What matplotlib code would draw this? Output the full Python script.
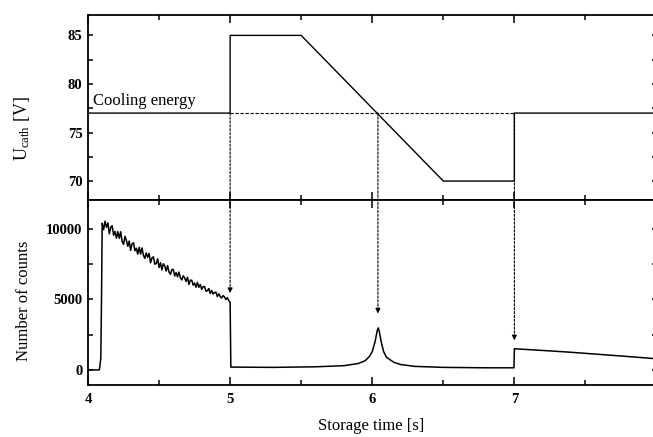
import numpy as np
import matplotlib
matplotlib.use('Agg')
import matplotlib.pyplot as plt
from matplotlib.patches import ConnectionPatch
from matplotlib.ticker import MultipleLocator

plt.rcParams['font.family'] = ['Liberation Serif', 'DejaVu Serif']
plt.rcParams['mathtext.fontset'] = 'custom'
plt.rcParams['mathtext.rm'] = 'Liberation Serif'
plt.rcParams['mathtext.it'] = 'Liberation Serif:italic'

# cathode voltage programme
u_time = [4.0, 5.0, 5.0, 5.5, 6.5, 7.0, 7.0, 8.0]
u_volt = [77, 77, 85, 85, 70, 70, 77, 77]
cooling_energy = 77

# counts: injection edge
t_rise = [4.0, 4.08, 4.09, 4.095]
c_rise = [0, 0, 800, 5000]

# counts: noisy decay, sampled every 10 ms from 4.10 s to 4.99 s
t_decay = np.round(np.arange(4.10, 4.995, 0.01), 3)
c_decay = [10400, 9950, 10550, 10110, 10430, 9650, 10110, 10230, 9550, 9820,
           9340, 9810, 9330, 9800, 9120, 8900, 9470, 9190, 8770, 9140,
           8470, 8950, 9020, 8450, 8630, 8210, 8690, 8220, 8650, 8130,
           7910, 8300, 7980, 8260, 7600, 7930, 8020, 7500, 7540, 7880,
           7260, 7600, 7090, 7530, 7370, 7010, 7400, 6940, 6780, 7120,
           7120, 6660, 6900, 6600, 6940, 6530, 6380, 6680, 6520, 6270,
           6570, 6060, 6360, 6360, 6010, 6160, 5860, 6210, 5860, 6060,
           5710, 5910, 5910, 5570, 5620, 5770, 5420, 5630, 5380, 5490,
           5510, 5200, 5400, 5210, 5100, 5270, 5180, 4990, 5130, 4920]

# counts: after the jump at 5 s (recombination peak, then 7 s jump)
t_tail = [5.0, 5.005, 5.3, 5.6, 5.8, 5.9, 5.95, 5.98, 6.0, 6.02, 6.035, 6.043,
          6.05, 6.065, 6.08, 6.1, 6.15, 6.2, 6.3, 6.5, 6.8, 6.997,
          7.0, 7.2, 7.4, 7.6, 7.8, 8.0]
c_tail = [4800, 200, 180, 220, 300, 450, 650, 950, 1300, 2000, 2800, 2980,
          2700, 1900, 1300, 900, 550, 380, 250, 180, 150, 150,
          1500, 1380, 1250, 1100, 950, 790]

# where the dashed arrows end
arrow_x = [5.0, 6.04, 7.0]
arrow_tip = [5450, 4000, 2100]

t_counts = np.concatenate([t_rise, t_decay, t_tail])
c_counts = np.concatenate([c_rise, c_decay, c_tail])

fig = plt.figure(figsize=(6.53, 4.37), dpi=100)
W, H = 653.0, 437.0
left = 88 / W
width = (656.5 - 88) / W
ax_top = fig.add_axes([left, 1 - 200 / H, width, 185 / H])
ax_bot = fig.add_axes([left, 1 - 385 / H, width, 185 / H], sharex=ax_top)

lw = 1.0
ax_top.plot(u_time, u_volt, color='k', lw=lw)
ax_top.plot([5.0, 7.0], [cooling_energy, cooling_energy], color='k', lw=0.8,
            ls=(0, (3, 1.5)))
ax_top.text(4.035, 78.2, 'Cooling energy', fontsize=12, va='center', ha='left')

ax_bot.plot(t_counts, c_counts, color='k', lw=1.1)

ax_top.set_xlim(4, 8)
ax_top.set_ylim(68.05, 87.1)
ax_bot.set_ylim(-1070, 12050)

for ax in (ax_top, ax_bot):
    for sp in ax.spines.values():
        sp.set_linewidth(1.3)
    ax.xaxis.set_major_locator(MultipleLocator(1))
    ax.xaxis.set_minor_locator(MultipleLocator(0.5))
    ax.tick_params(axis='x', which='major', direction='in', top=True, bottom=True,
                   length=6, width=1.1, labelsize=10.5, pad=6)
    ax.tick_params(axis='x', which='minor', direction='in', top=True, bottom=True,
                   length=3.5, width=1.1)
    ax.tick_params(axis='y', which='both', direction='in', left=True, right=True,
                   length=3.5, width=1.1, labelsize=10.5, pad=4)
    for lab in ax.get_xticklabels() + ax.get_yticklabels():
        lab.set_fontweight('bold')

ax_top.yaxis.set_major_locator(MultipleLocator(5))
ax_top.yaxis.set_minor_locator(MultipleLocator(2.5))
ax_bot.yaxis.set_major_locator(MultipleLocator(5000))
ax_bot.yaxis.set_minor_locator(MultipleLocator(2500))
ax_top.tick_params(axis='x', labelbottom=False)

ax_top.set_ylabel(r'$\mathrm{U_{cath}}$ [V]', fontsize=13)
ax_bot.set_ylabel('Number of counts', fontsize=12)
ax_bot.set_xlabel('Storage time [s]', fontsize=12)
ax_top.yaxis.set_label_coords(-0.099, 0.386)
ax_bot.yaxis.set_label_coords(-0.099, 0.454)
ax_bot.xaxis.set_label_coords(0.498, -0.176)

for x, tip in zip(arrow_x, arrow_tip):
    con = ConnectionPatch(xyA=(x, cooling_energy), coordsA=ax_top.transData,
                          xyB=(x, tip + 250), coordsB=ax_bot.transData,
                          color='k', lw=0.8, ls=(0, (2, 1.5)))
    fig.add_artist(con)
    ax_bot.annotate('', xy=(x, tip), xytext=(x, tip + 300),
                    arrowprops=dict(arrowstyle='-|>', color='k', lw=0.8,
                                    mutation_scale=7, shrinkA=0, shrinkB=0))

fig.savefig('out.png', dpi=100)
